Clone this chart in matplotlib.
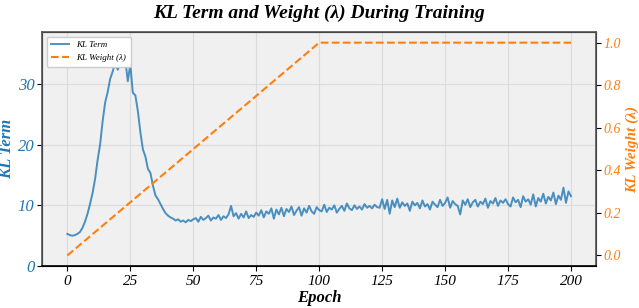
import matplotlib

matplotlib.use("Agg")
import matplotlib.pyplot as plt

# KL term per epoch (0..200)
kl_term = [
    5.3, 5.1, 5.0, 5.1, 5.3, 5.6, 6.3, 7.3, 8.6, 10.2,
    12.0, 14.3, 17.4, 20.0, 23.8, 26.9, 28.6, 30.8, 32.0, 33.5,
    32.3, 33.4, 36.7, 34.0, 30.4, 33.2, 28.5, 28.1, 25.5, 22.0,
    19.2, 18.0, 16.0, 15.3, 13.2, 11.6, 11.0, 10.2, 9.4, 8.7,
    8.3, 8.0, 7.8, 7.5, 7.7, 7.3, 7.5, 7.2, 7.6, 7.4,
    7.7, 7.9, 7.3, 8.1, 7.6, 7.9, 8.3, 7.5, 8.0, 7.8,
    8.4, 7.6, 8.2, 7.9, 8.5, 9.9, 8.2, 8.7, 7.8, 8.6,
    8.0, 9.0, 7.9, 8.4, 8.1, 8.8, 8.3, 9.2, 8.0, 9.0,
    8.6, 9.5, 7.8, 9.3, 8.5, 9.6, 8.2, 9.4, 8.9, 9.8,
    8.4, 9.1, 9.7, 8.3, 9.5, 8.8, 9.9, 9.0, 8.6, 9.7,
    9.2, 9.0, 10.1, 8.9, 9.6, 9.3, 10.0, 8.8, 9.4, 9.9,
    9.1, 10.3, 9.5, 9.2, 10.0, 9.4, 9.8, 9.3, 10.2, 9.6,
    9.9, 9.5, 10.1, 9.7, 9.6, 11.0, 9.4, 10.9, 8.6, 10.8,
    9.7, 11.1, 9.6, 10.5, 9.9, 10.3, 9.1, 10.6, 10.0, 10.4,
    9.5, 10.8, 9.8, 10.2, 9.3, 10.6, 10.1, 9.7, 10.9, 9.9,
    10.4, 11.3, 9.6, 10.7, 10.2, 9.9, 8.5, 10.8, 10.1, 11.0,
    9.7, 10.5, 10.9, 9.8, 10.6, 10.2, 11.1, 9.6, 10.7, 10.3,
    11.2, 9.9, 10.8, 10.4, 11.0, 10.2, 9.8, 11.3, 10.5, 10.9,
    9.7, 11.5, 10.6, 11.0, 10.1, 11.8, 9.8, 11.2, 10.6, 11.9,
    10.3, 11.4, 10.8, 12.1, 10.2, 11.6, 10.9, 12.9, 10.4, 12.3,
    11.5,
]
epochs = list(range(len(kl_term)))

# KL weight schedule: linear warm-up to 1.0 at epoch 100, then flat
weight_epochs = [0, 100, 200]
weight_values = [0.0, 1.0, 1.0]

left_ticks = [0, 10, 20, 30]
right_ticks = [0.0, 0.2, 0.4, 0.6, 0.8, 1.0]
x_ticks = [0, 25, 50, 75, 100, 125, 150, 175, 200]

BLUE = "#1f77b4"
ORANGE = "#ff7f0e"
SERIF = ["Liberation Serif", "DejaVu Serif"]

plt.rcParams["font.family"] = SERIF

fig = plt.figure(figsize=(6.39, 3.08), dpi=100)
ax = fig.add_axes([0.066, 0.136, 0.867, 0.760])
ax.set_facecolor("#f0f0f0")
ax2 = ax.twinx()

l1, = ax.plot(epochs, kl_term, color=BLUE, alpha=0.8, lw=1.4, label="KL Term")
l2, = ax2.plot(weight_epochs, weight_values, color=ORANGE, ls="--", lw=1.5,
               label="KL Weight (λ)")

ax.set_xlim(-10, 210)
ax.set_ylim(0, 38.5)
ax2.set_ylim(-0.05, 1.05)
ax.set_xticks(x_ticks)
ax.set_yticks(left_ticks)
ax2.set_yticks(right_ticks)
ax2.set_yticklabels([f"{v:.1f}" for v in right_ticks])

ax.tick_params(axis="y", pad=2)
ax.tick_params(axis="x", pad=3)
ax2.tick_params(axis="y", pad=2)

ax.grid(True, color="#d8d8d8", lw=0.8, alpha=0.8)
ax.set_axisbelow(True)

for lab in ax.get_xticklabels():
    lab.set_fontstyle("italic")
    lab.set_fontsize(11)
for lab in ax.get_yticklabels():
    lab.set_fontstyle("italic")
    lab.set_fontsize(12)
    lab.set_color(BLUE)
for lab in ax2.get_yticklabels():
    lab.set_fontstyle("italic")
    lab.set_fontsize(10)
    lab.set_color(ORANGE)

ax.set_xlabel("Epoch", fontsize=12, fontweight="bold", fontstyle="italic", labelpad=1)
ax.set_ylabel("KL Term", fontsize=12, fontweight="bold", fontstyle="italic",
              color=BLUE, labelpad=2)
ax2.set_ylabel("KL Weight (λ)", fontsize=11, fontweight="bold", fontstyle="italic",
               color=ORANGE, labelpad=3)

for spine in ("left", "top", "right"):
    ax2.spines[spine].set_color("#555555")
    ax2.spines[spine].set_linewidth(1.2)
ax2.spines["bottom"].set_color("black")
ax2.spines["bottom"].set_linewidth(1.2)

fig.suptitle("KL Term and Weight (λ) During Training", fontsize=14,
             fontweight="bold", fontstyle="italic", y=0.985)

ax.legend([l1, l2], ["KL Term", "KL Weight (λ)"], loc="upper left",
          prop={"size": 6.5, "style": "italic", "family": SERIF},
          framealpha=1.0, borderpad=0.5)

fig.savefig("out.png", dpi=100)
